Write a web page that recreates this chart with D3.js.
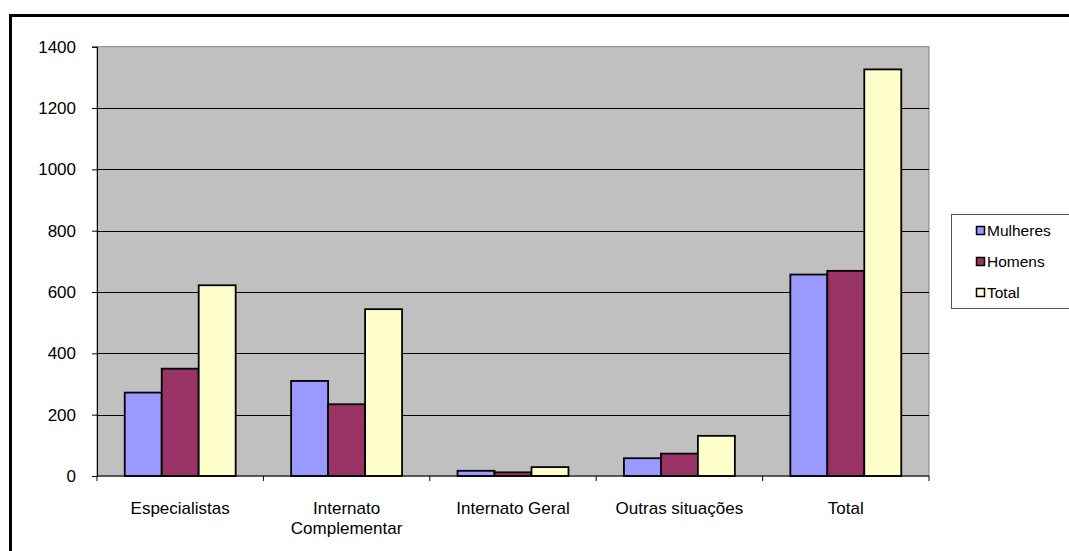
<!DOCTYPE html>
<html>
<head>
<meta charset="utf-8">
<script src="https://cdn.jsdelivr.net/npm/d3@7"></script>
<style>
  html, body { margin: 0; padding: 0; background: #fff; }
  svg { display: block; font-family: "Liberation Sans", Arial, sans-serif; }
</style>
</head>
<body>
<svg id="chart" width="1069" height="551"></svg>
<script>
// Categories along the x axis
const categories = ["Especialistas", "Internato Complementar", "Internato Geral", "Outras situações", "Total"];
// Series names (legend order)
const seriesNames = ["Mulheres", "Homens", "Total"];
// Values per series, in category order
const mulheres = [272, 310, 17, 58, 657];
const homens   = [350, 234, 12, 73, 669];
const total    = [622, 544, 29, 131, 1326];
// Y axis ticks
const yTicks = [0, 200, 400, 600, 800, 1000, 1200, 1400];

const seriesValues = [mulheres, homens, total];
const seriesColors = ["#9999FF", "#993366", "#FFFFCC"];

const svg = d3.select("#chart");

// Outer chart frame (runs off the right and bottom edge)
svg.append("rect")
  .attr("x", 10.5).attr("y", 15.5)
  .attr("width", 1100).attr("height", 600)
  .attr("fill", "#fff").attr("stroke", "#000").attr("stroke-width", 3);

const plot = { left: 97, right: 929, top: 46.7, bottom: 476 };

const x = d3.scaleBand().domain(categories).range([plot.left, plot.right]).padding(0);
const xs = d3.scaleBand().domain(seriesNames).range([0, x.bandwidth()])
  .paddingInner(0).paddingOuter(0.75);
const y = d3.scaleLinear().domain([0, 1400]).range([plot.bottom, plot.top]);

// Plot area background
svg.append("rect")
  .attr("x", plot.left).attr("y", plot.top)
  .attr("width", plot.right - plot.left).attr("height", plot.bottom - plot.top)
  .attr("fill", "#C0C0C0").attr("stroke", "#808080").attr("stroke-width", 1);

// Horizontal gridlines
svg.append("g").selectAll("line")
  .data(yTicks.filter(t => t > 0 && t < 1400))
  .join("line")
  .attr("x1", plot.left).attr("x2", plot.right)
  .attr("y1", d => Math.round(y(d)) + 0.5).attr("y2", d => Math.round(y(d)) + 0.5)
  .attr("stroke", "#000").attr("stroke-width", 1);

// Bars
const rows = categories.map((c, i) => ({ cat: c, vals: seriesNames.map((s, j) => ({ s, v: seriesValues[j][i], color: seriesColors[j] })) }));
svg.append("g").selectAll("g")
  .data(rows)
  .join("g")
  .attr("transform", d => `translate(${x(d.cat)},0)`)
  .selectAll("rect")
  .data(d => d.vals)
  .join("rect")
  .attr("x", d => xs(d.s))
  .attr("width", xs.bandwidth())
  .attr("y", d => y(d.v))
  .attr("height", d => y(0) - y(d.v))
  .attr("fill", d => d.color)
  .attr("stroke", "#000").attr("stroke-width", 1.8);

// Y axis
const yAxis = svg.append("g")
  .attr("transform", `translate(${plot.left},0)`)
  .call(d3.axisLeft(y).tickValues(yTicks).tickSize(5).tickPadding(16).tickFormat(d3.format("d")));
yAxis.select(".domain").attr("stroke", "#000");
yAxis.selectAll(".tick line").attr("stroke", "#000");
yAxis.selectAll("text").attr("font-size", 17).attr("fill", "#000")
  .attr("font-family", "'Liberation Sans', Arial, sans-serif");

// X axis line with boundary ticks
svg.append("line")
  .attr("x1", plot.left).attr("x2", plot.right)
  .attr("y1", plot.bottom).attr("y2", plot.bottom)
  .attr("stroke", "#000").attr("stroke-width", 1);
const bounds = categories.map(c => x(c)).concat([plot.right]);
svg.append("g").selectAll("line")
  .data(bounds)
  .join("line")
  .attr("x1", d => d).attr("x2", d => d)
  .attr("y1", plot.bottom).attr("y2", plot.bottom + 5)
  .attr("stroke", "#000").attr("stroke-width", 1);

// Category labels, wrapped when wider than the band
const labels = svg.append("g");
categories.forEach(c => {
  const t = labels.append("text")
    .attr("x", x(c) + x.bandwidth() / 2)
    .attr("y", 514)
    .attr("text-anchor", "middle")
    .attr("font-size", 17).attr("fill", "#000")
    .text(c);
  if (t.node().getComputedTextLength() > x.bandwidth() - 14) {
    t.text(null);
    c.split(" ").forEach((w, i) => {
      t.append("tspan").attr("x", x(c) + x.bandwidth() / 2)
        .attr("dy", i === 0 ? 0 : 20).text(w);
    });
  }
});

// Legend
const legend = svg.append("g");
legend.append("rect")
  .attr("x", 951.5).attr("y", 214.5)
  .attr("width", 200).attr("height", 94)
  .attr("fill", "#fff").attr("stroke", "#555").attr("stroke-width", 1);
seriesNames.forEach((s, i) => {
  const cy = 231 + i * 31;
  legend.append("rect")
    .attr("x", 976.5).attr("y", cy - 4.5)
    .attr("width", 8).attr("height", 8)
    .attr("fill", seriesColors[i]).attr("stroke", "#000").attr("stroke-width", 1.5);
  legend.append("text")
    .attr("x", 987).attr("y", cy + 5.3)
    .attr("font-size", 15.5).attr("fill", "#000")
    .text(s);
});
</script>
</body>
</html>
